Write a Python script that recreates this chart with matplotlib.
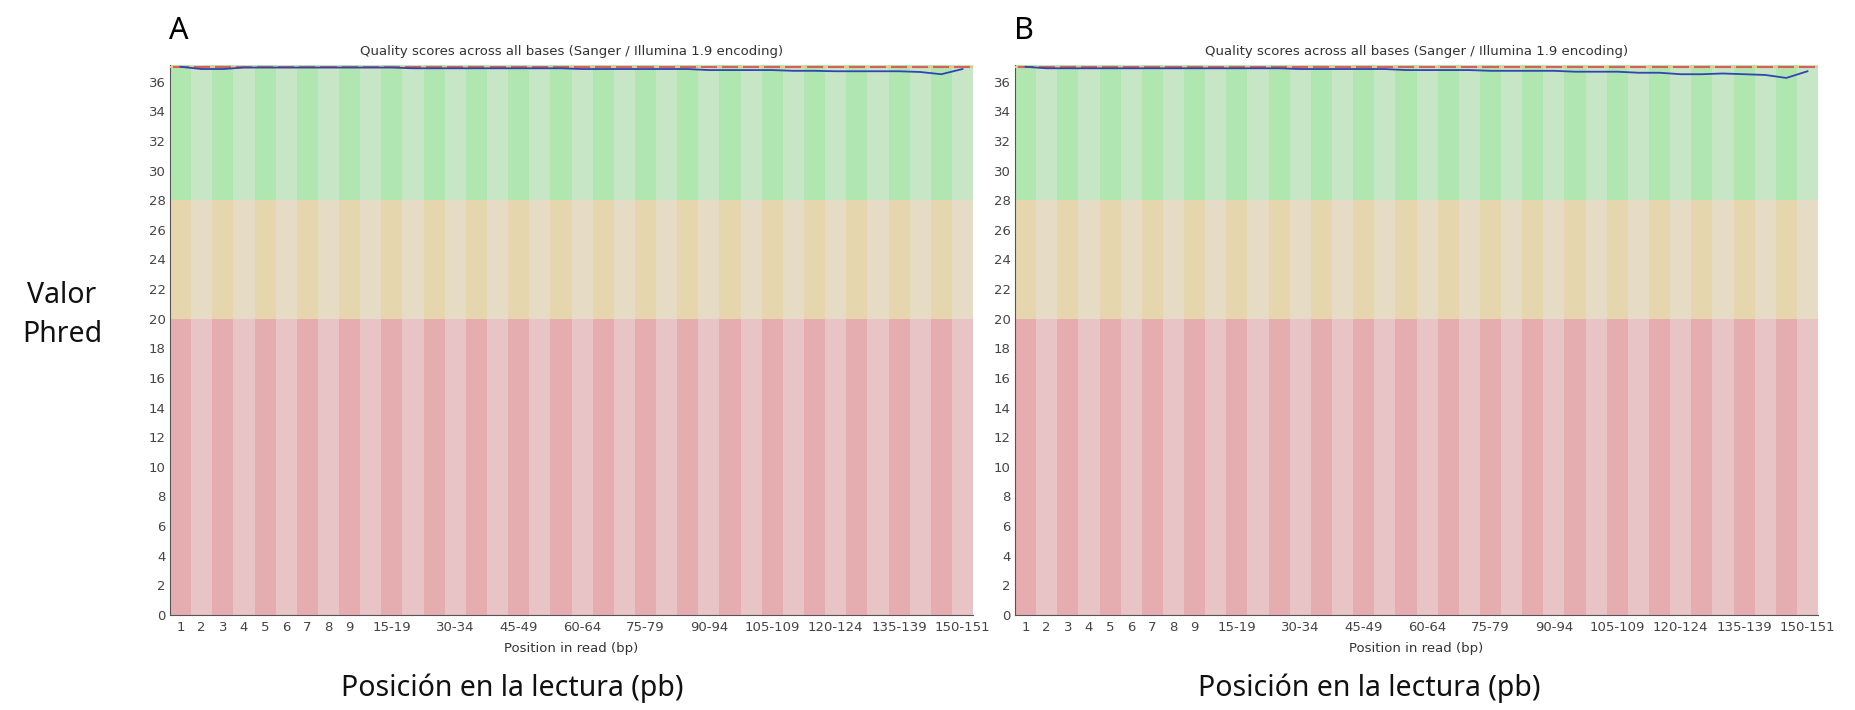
import numpy as np
import matplotlib
matplotlib.use("Agg")
import matplotlib.pyplot as plt

# grupos de posiciones (FastQC agrupa a partir de la 10)
pos = [str(i) for i in range(1, 10)] + ["%d-%d" % (a, a + 4) for a in range(10, 150, 5)] + ["150-151"]
shown = ["1", "2", "3", "4", "5", "6", "7", "8", "9", "15-19", "30-34", "45-49", "60-64",
         "75-79", "90-94", "105-109", "120-124", "135-139", "150-151"]

# calidad media
mean_A = [37.0, 36.85, 36.85, 36.95, 36.95, 36.95, 36.95, 36.95, 36.95, 36.95, 36.95,
          36.9, 36.9, 36.9, 36.9, 36.9, 36.9, 36.9, 36.9, 36.85, 36.85, 36.85, 36.85,
          36.85, 36.85, 36.78, 36.78, 36.78, 36.78, 36.73, 36.73, 36.7, 36.7, 36.7,
          36.7, 36.65, 36.5, 36.85]
mean_B = [37.0, 36.9, 36.9, 36.9, 36.9, 36.9, 36.9, 36.9, 36.9, 36.9, 36.9, 36.9, 36.9,
          36.85, 36.85, 36.85, 36.85, 36.85, 36.78, 36.78, 36.78, 36.78, 36.73, 36.73,
          36.73, 36.73, 36.67, 36.67, 36.67, 36.6, 36.6, 36.5, 36.5, 36.55, 36.5, 36.45,
          36.25, 36.7]
median_A = [37] * len(pos)
median_B = [37] * len(pos)

ytop = 37.12
bands = [(0, 20, "#e6adb1", "#e8c4c6"), (20, 28, "#e6d6ae", "#e6dcc6"), (28, ytop, "#b0e6b0", "#c6e6c6")]

fig = plt.figure(figsize=(18.55, 7.10), dpi=100)

def panel(left, mean, median, letter, big_x):
    ax = fig.add_axes([left, 0.1338, 0.4329, 0.7746])
    x = np.arange(len(pos))
    for lo, hi, dark, light in bands:
        cols = [dark if i % 2 == 0 else light for i in x]
        ax.bar(x, hi - lo, bottom=lo, width=1.0, color=cols, linewidth=0)
    ax.plot([-0.5, len(pos) - 0.5], [37, 37], color="#e8c880", lw=1.5, zorder=3)
    ax.hlines(median, x - 0.38, x + 0.38, color="#d9605a", lw=1.5, zorder=4)
    ax.plot(x, mean, color="#2f45b5", lw=1.3, zorder=5)
    ax.set_xlim(-0.5, len(pos) - 0.5)
    ax.set_ylim(0, ytop)
    ax.set_yticks(range(0, 37, 2))
    ax.set_xticks([pos.index(s) for s in shown])
    ax.set_xticklabels(shown)
    ax.tick_params(length=0, labelsize=9.5, colors="#444444")
    ax.tick_params(axis="y", pad=3)
    ax.tick_params(axis="x", pad=4)
    for s in ["top", "right"]:
        ax.spines[s].set_visible(False)
    for s in ["left", "bottom"]:
        ax.spines[s].set_color("#555555")
    ax.set_title("Quality scores across all bases (Sanger / Illumina 1.9 encoding)",
                 fontsize=9.5, color="#333333", pad=7)
    ax.set_xlabel("Position in read (bp)", fontsize=9.5, color="#333333", labelpad=6)
    fig.text(left - 0.0005, 0.978, letter, fontsize=22, family="Noto Sans", va="top")
    fig.text(big_x, 0.031, "Posición en la lectura (pb)", fontsize=20.5, family="Noto Sans",
             ha="center", va="center", color="#111111")
    return ax

panel(170 / 1855, mean_A, median_A, "A", 512 / 1855)
panel(1015 / 1855, mean_B, median_B, "B", 1369 / 1855)
fig.text(62 / 1855, 0.556, "Valor\nPhred", fontsize=20.5, family="Noto Sans",
         ha="center", va="center", linespacing=1.45, color="#111111")

fig.savefig("out.png", dpi=100)
